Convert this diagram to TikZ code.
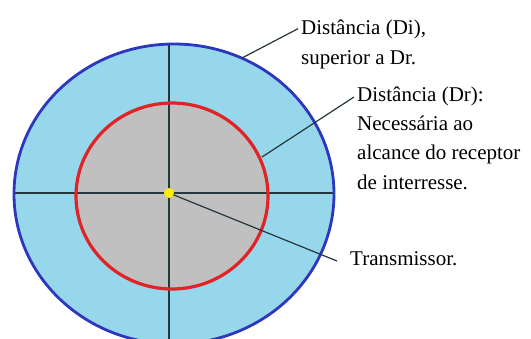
\documentclass[tikz,border=0pt]{standalone}
\usepackage{fontspec}
\setmainfont{Liberation Serif}

\begin{document}
\begin{tikzpicture}[x=1pt,y=-1pt,
  axis/.style={draw=ink, line width=1.4pt},
  leader/.style={draw=ink, line width=1.2pt},
  lbl/.style={anchor=base west, inner sep=0pt, align=left,
    font=\fontsize{21}{29.3}\selectfont}]
\definecolor{skyfill}{RGB}{150,215,235}
\definecolor{rimblue}{RGB}{45,55,190}
\definecolor{rimred}{RGB}{225,35,40}
\definecolor{core}{RGB}{192,192,192}
\definecolor{ink}{RGB}{35,55,60}
\definecolor{spot}{RGB}{255,238,0}
\useasboundingbox (0,0) rectangle (531,338);
\clip (0,0) rectangle (531,338);
%% --- zones: Di (outer) and Dr (inner) ---
\fill[skyfill] (174,194) ellipse [x radius=160, y radius=150];
\fill[core] (172,196) ellipse [x radius=96, y radius=93];
%% --- axes through the transmitter ---
\coordinate (tx) at (169,193);
\coordinate (west) at (14.5,193);
\coordinate (east) at (334,193);
\coordinate (north) at (169,44);
\coordinate (south) at (169,340);
\draw[axis] (west) -- (east);
\draw[axis] (north) -- (south);
\draw[rimred, line width=3.2pt] (172,196) ellipse [x radius=96, y radius=93];
\draw[rimblue, line width=2.8pt] (174,194) ellipse [x radius=160, y radius=150];
%% --- labels (base = baseline of the last line) ---
\node[lbl] (di) at (301,64) {Distância (Di),\\superior a Dr.};
\node[lbl] (dr) at (357,189) {Distância (Dr):\\Necessária ao\\alcance do receptor\\de interresse.};
\node[lbl] (trans) at (350,265) {Transmissor.};
\coordinate (di-foot) at (242,58);
\coordinate (dr-foot) at (262,157);
\draw[leader] (di-foot) -- ([shift={(-3,-35.3)}]di.base west);
\draw[leader] (dr-foot) -- ([shift={(-3,-92)}]dr.base west);
\draw[leader] (tx) -- ([shift={(-13,-4)}]trans.base west);
\fill[spot] (tx) circle (5);
\end{tikzpicture}
\end{document}
